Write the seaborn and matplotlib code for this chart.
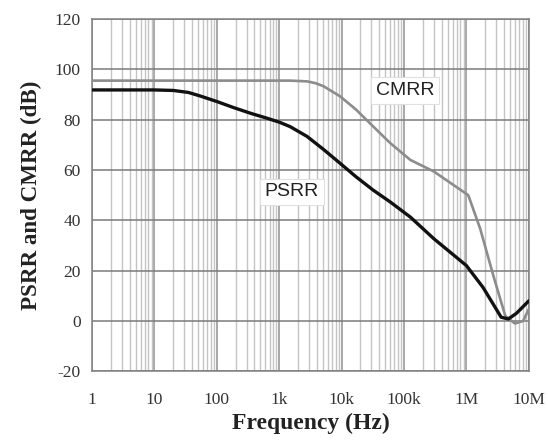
import matplotlib
matplotlib.use("Agg")
import matplotlib.pyplot as plt
import matplotlib.ticker as mticker
import seaborn as sns
import pandas as pd
import numpy as np

# --- data ---
psrr_freq = [1, 10, 20, 35, 54, 100, 180, 350, 630, 1000, 1500, 2800, 5100,
             9400, 17000, 32000, 60000, 126000, 300000, 1000000, 1850000,
             3600000, 4700000, 6300000, 10000000]
psrr_db = [91.8, 91.8, 91.6, 90.8, 89.4, 87.2, 84.9, 82.5, 80.6, 79.0, 77.2,
           73.3, 68.2, 62.7, 57.3, 52.0, 47.3, 41.3, 32.7, 22.0, 13.3, 1.5,
           0.8, 3.0, 8.0]

cmrr_freq = [1, 100, 1500, 2800, 3800, 5100, 9400, 17000, 32000, 60000,
             126000, 300000, 1070000, 1660000, 2700000, 4200000, 6000000,
             8100000, 10000000]
cmrr_db = [95.5, 95.5, 95.5, 95.2, 94.5, 93.3, 89.3, 84.0, 77.3, 70.7, 64.0,
           59.4, 50.0, 36.7, 18.0, 2.0, -1.0, 0.0, 4.7]

x_ticks = [1, 10, 100, 1e3, 1e4, 1e5, 1e6, 1e7]
x_tick_labels = ["1", "10", "100", "1k", "10k", "100k", "1M", "10M"]
y_ticks = [-20, 0, 20, 40, 60, 80, 100, 120]

df = pd.concat([
    pd.DataFrame({"freq": psrr_freq, "db": psrr_db, "series": "PSRR"}),
    pd.DataFrame({"freq": cmrr_freq, "db": cmrr_db, "series": "CMRR"}),
])

sns.set_style("white")
plt.rcParams["axes.unicode_minus"] = False
fig = plt.figure(figsize=(5.48, 4.41), dpi=100)
ax = fig.add_axes([0.168, 0.158, 0.797, 0.799])

sns.lineplot(data=df, x="freq", y="db", hue="series",
             palette={"PSRR": "#111111", "CMRR": "#8c8c8c"},
             hue_order=["CMRR", "PSRR"], legend=False, ax=ax, sort=False,
             estimator=None)
for line in ax.get_lines():
    if matplotlib.colors.to_hex(line.get_color()) == "#111111":
        line.set_linewidth(2.4)
        line.set_zorder(4)
    else:
        line.set_linewidth(1.9)
        line.set_zorder(3)
    line.set_solid_joinstyle("round")

ax.set_xscale("log")
ax.set_xlim(1, 1e7)
ax.set_ylim(-20, 120)
ax.set_xticks(x_ticks)
ax.set_xticklabels(x_tick_labels)
ax.set_yticks(y_ticks)
ax.xaxis.set_minor_locator(mticker.LogLocator(base=10, subs=np.arange(2, 10), numticks=100))
ax.xaxis.set_minor_formatter(mticker.NullFormatter())

ax.grid(False)
ax.grid(which="minor", axis="x", color="#c4c4c4", lw=1.0)
ax.grid(which="major", axis="x", color="#9a9a9a", lw=1.2)
ax.grid(which="major", axis="y", color="#7a7a7a", lw=1.1)
ax.set_axisbelow(True)

for s in ax.spines.values():
    s.set_color("#808080")
    s.set_linewidth(1.1)

ax.tick_params(which="both", length=0)
ax.tick_params(axis="x", pad=15)
ax.tick_params(axis="y", pad=8)
for lab in ax.get_xticklabels() + ax.get_yticklabels():
    lab.set_fontfamily("Liberation Serif")
    lab.set_fontsize(12.5)
    lab.set_color("#333333")

ax.set_xlabel("Frequency (Hz)", fontfamily="Liberation Serif", fontweight="bold",
              fontsize=17, color="#222222")
ax.set_ylabel("PSRR and CMRR (dB)", fontfamily="Liberation Serif", fontweight="bold",
              fontsize=16.6, color="#222222")
ax.xaxis.set_label_coords(0.5, -0.118)
ax.yaxis.set_label_coords(-0.114, 0.5)

box = dict(boxstyle="square,pad=0.25", fc="white", ec="#e0e0e0", lw=0.8)
ax.text(1.04e5, 91.5, "CMRR", fontfamily="Liberation Sans", fontsize=14,
        color="#222222", ha="center", va="center", bbox=box, zorder=5)
ax.text(1.6e3, 51.3, "PSRR", fontfamily="Liberation Sans", fontsize=14,
        color="#222222", ha="center", va="center", bbox=box, zorder=5)

fig.savefig("out.png", dpi=100, facecolor="white")
